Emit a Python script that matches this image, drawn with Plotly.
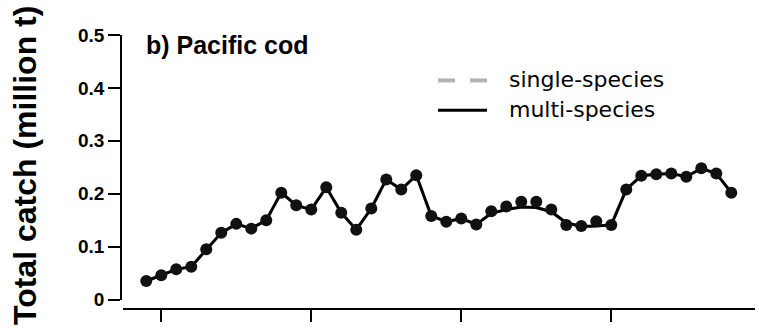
import plotly.graph_objects as go

# Eastern Bering Sea Pacific cod, total catch (million t)
years = list(range(1979, 2019))
observed_catch = [
    0.035, 0.046, 0.057, 0.062, 0.095, 0.126, 0.143, 0.134, 0.150, 0.202,
    0.178, 0.170, 0.212, 0.164, 0.132, 0.172, 0.227, 0.208, 0.235, 0.158,
    0.147, 0.153, 0.142, 0.167, 0.176, 0.185, 0.185, 0.170, 0.141, 0.139,
    0.148, 0.141, 0.208, 0.234, 0.237, 0.238, 0.232, 0.248, 0.238, 0.202,
]
multi_species = [
    0.035, 0.046, 0.057, 0.062, 0.095, 0.126, 0.143, 0.134, 0.150, 0.202,
    0.178, 0.170, 0.212, 0.164, 0.132, 0.172, 0.227, 0.208, 0.235, 0.158,
    0.147, 0.153, 0.142, 0.163, 0.170, 0.175, 0.174, 0.166, 0.145, 0.138,
    0.139, 0.141, 0.208, 0.234, 0.237, 0.238, 0.232, 0.248, 0.238, 0.202,
]
single_species = [
    0.035, 0.046, 0.057, 0.062, 0.095, 0.126, 0.143, 0.134, 0.150, 0.202,
    0.178, 0.170, 0.212, 0.164, 0.132, 0.172, 0.227, 0.208, 0.235, 0.158,
    0.147, 0.153, 0.142, 0.163, 0.170, 0.175, 0.174, 0.166, 0.145, 0.138,
    0.139, 0.141, 0.208, 0.234, 0.237, 0.238, 0.232, 0.248, 0.238, 0.202,
]
x_ticks = [1980, 1990, 2000, 2010]
y_ticks = [0, 0.1, 0.2, 0.3, 0.4, 0.5]
y_tick_text = ["0", "0.1", "0.2", "0.3", "0.4", "0.5"]

FONT = "Liberation Sans, Arial, sans-serif"
LEGEND_FONT = "DejaVu Sans, sans-serif"
W, H = 759, 332
ML, MR, MT, MB = 121, 4, 34.5, 23

fig = go.Figure()
fig.add_trace(go.Scatter(
    x=years, y=single_species, mode="lines", name="single-species",
    line=dict(color="#b3b3b3", width=3, dash="dash"), showlegend=False,
))
fig.add_trace(go.Scatter(
    x=years, y=multi_species, mode="lines", name="multi-species",
    line=dict(color="#000000", width=3), showlegend=False,
))
fig.add_trace(go.Scatter(
    x=years, y=observed_catch, mode="markers", name="observed",
    marker=dict(color="#111111", size=12, line=dict(width=0)), showlegend=False,
))

plot_w = W - ML - MR
plot_h = H - MT - MB

fig.update_layout(
    width=W, height=H,
    margin=dict(l=ML, r=MR, t=MT, b=MB, pad=0),
    paper_bgcolor="white", plot_bgcolor="white",
    font=dict(family=FONT, color="black"),
    xaxis=dict(
        domain=[2 / plot_w, 1], range=[1977.45, 2019.58],
        anchor="free", position=0,
        showline=True, linecolor="black", linewidth=1.8,
        ticks="outside", ticklen=12, tickwidth=1.8, tickcolor="black",
        tickvals=x_ticks, showticklabels=False,
        showgrid=False, zeroline=False,
    ),
    yaxis=dict(
        domain=[9.5 / plot_h, 1], range=[0, 0.5],
        anchor="free", position=0,
        showline=True, linecolor="black", linewidth=1.5,
        ticks="outside", ticklen=12, tickwidth=1.5, tickcolor="black",
        tickvals=y_ticks, ticktext=y_tick_text, ticklabelstandoff=0,
        tickfont=dict(family=FONT, size=19, weight="bold", color="black"),
        showgrid=False, zeroline=False,
    ),
)

# axis title and panel label
fig.add_annotation(
    text="<b>Total catch (million t)</b>", textangle=-90,
    xref="paper", yref="paper", x=0, y=0.5, xanchor="center", yanchor="middle",
    xshift=-96, yshift=6, showarrow=False,
    font=dict(family=FONT, size=32, color="black"),
)
fig.add_annotation(
    text="<b>b) Pacific cod</b>",
    xref="paper", yref="paper", x=0, y=1, xanchor="left", yanchor="middle",
    xshift=23, yshift=-10, showarrow=False,
    font=dict(family=FONT, size=25, color="black"),
)

# hand-drawn legend
def px_to_paper(px, py):
    return (px - ML) / plot_w, 1 - (py - MT) / plot_h

for (x0, x1) in [(438, 455), (470, 487)]:
    a, yy = px_to_paper(x0, 80)
    b, _ = px_to_paper(x1, 80)
    fig.add_shape(type="line", xref="paper", yref="paper", x0=a, x1=b, y0=yy, y1=yy,
                  line=dict(color="#b3b3b3", width=4))
a, yy = px_to_paper(438, 110)
b, _ = px_to_paper(487, 110)
fig.add_shape(type="line", xref="paper", yref="paper", x0=a, x1=b, y0=yy, y1=yy,
              line=dict(color="black", width=3))

for label, py in [("single-species", 79), ("multi-species", 109)]:
    lx, ly = px_to_paper(507, py)
    fig.add_annotation(
        text=label, xref="paper", yref="paper", x=lx, y=ly,
        xanchor="left", yanchor="middle", showarrow=False,
        font=dict(family=LEGEND_FONT, size=22, color="black"),
    )

fig.write_html("out.html")
